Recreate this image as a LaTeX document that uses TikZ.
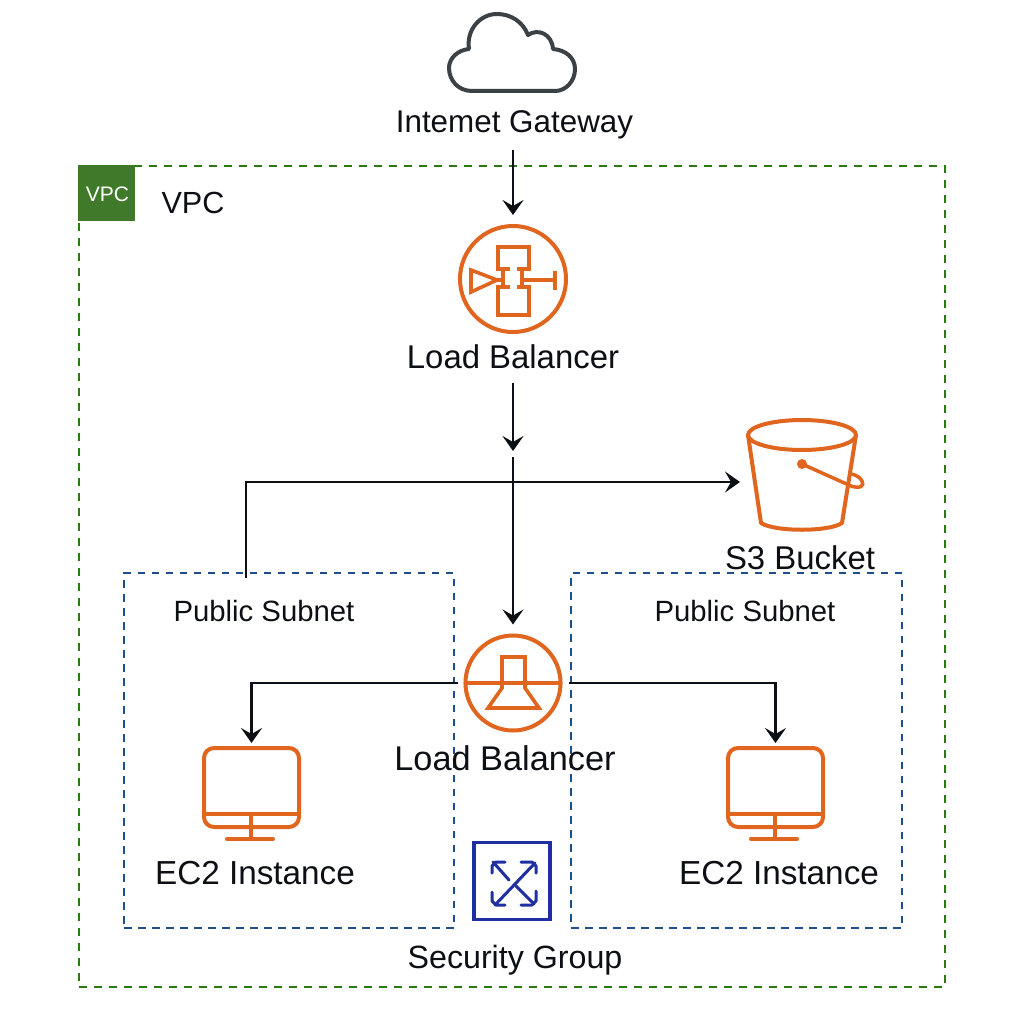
\documentclass[tikz,border=0pt]{standalone}
\usepackage{fontspec}
\setmainfont{Liberation Sans}
\usetikzlibrary{arrows.meta}
\definecolor{awsorange}{HTML}{E0651E}
\definecolor{vpcgreen}{HTML}{2A7A12}
\definecolor{badgegreen}{HTML}{3F7A2A}
\definecolor{subnetblue}{HTML}{1F4E8C}
\definecolor{sgblue}{HTML}{1F2EA0}
\definecolor{cloudgrey}{HTML}{3C4146}
\definecolor{inkblack}{HTML}{0C0F13}
\newcommand{\fsz}[1]{\fontsize{#1pt}{#1pt}\selectfont}
\tikzset{
  x=1pt,y=-1pt,
  lbl/.style={anchor=base,inner sep=0pt,outer sep=0pt,text=inkblack,text height=24pt,text depth=7pt},
  conn/.style={draw=inkblack,line width=2.3pt,-{Stealth[length=15pt,width=21pt,inset=6pt]}},
  icon/.style={draw=awsorange,line width=4pt,line join=round,line cap=round},
  iconsharp/.style={draw=awsorange,line width=3.6pt,line join=miter,line cap=butt},
  iconcircle/.style={circle,draw=awsorange,line width=4pt,inner sep=0pt,outer sep=0pt},
  ec2box/.style={draw=awsorange,line width=4pt,rounded corners=10pt,inner sep=0pt,outer sep=0pt,minimum width=95pt,minimum height=79pt},
  subnetbox/.style={draw=subnetblue,line width=1.2pt,dash pattern=on 7.5pt off 6.5pt,inner sep=0pt,outer sep=0pt,minimum height=355pt},
  sgline/.style={draw=sgblue,line width=3pt,line cap=round,line join=round},
}
\begin{document}
\begin{tikzpicture}
\useasboundingbox[fill=white] (0,0) rectangle (1024,1024);

% frames
\node[draw=vpcgreen,line width=1.3pt,dash pattern=on 8pt off 7pt,inner sep=0pt,outer sep=0pt,minimum width=866pt,minimum height=821pt] (vpc) at (512,576.5) {};
\node[subnetbox,minimum width=330pt] (subnetL) at (289,750.5) {};
\node[subnetbox,minimum width=331pt] (subnetR) at (736.5,750.5) {};
\node[fill=badgegreen,inner sep=0pt,outer sep=0pt,minimum width=57pt,minimum height=56pt] (badge) at (106.5,193) {};
\node[anchor=base,text=white,inner sep=0pt] (badgetext) at (107.5,202) {\fsz{21}VPC};
\node[lbl] (vpclabel) at (193,214) {\fsz{30.6}VPC};

% cloud
\draw[draw=cloudgrey,line width=4pt,line join=round] (472,91) .. controls (458,91) and (449,80) .. (449,68) .. controls (449,58) and (458,50) .. (469,49) .. controls (466,30) and (480,14) .. (497,14) .. controls (511,14) and (523,22) .. (528,35) .. controls (538,28) and (552,34) .. (553,49) .. controls (566,50) and (575,58) .. (575,69) .. controls (575,81) and (566,91) .. (555,91) -- cycle;
\node[lbl] (igwlabel) at (514.5,133) {\fsz{31.4}Intemet Gateway};

% load balancer 1
\node[iconcircle,minimum size=106pt] (lb1) at (513,279) {};
\draw[iconsharp] (510,269) -- (498,269) -- (498,247) -- (529,247) -- (529,269) -- (517,269);
\draw[iconsharp] (510,287) -- (498,287) -- (498,315) -- (529,315) -- (529,287) -- (517,287);
\draw[iconsharp] (503,269) -- (503,287);
\draw[iconsharp] (522,269) -- (522,287);
\draw[iconsharp] (471,270) -- (471,292) -- (497,280) -- cycle;
\draw[iconsharp] (497,280) -- (503,280);
\draw[iconsharp] (522,280) -- (555,280);
\draw[iconsharp] (555,271) -- (555,290);
\node[lbl] (lb1label) at (513,368) {\fsz{32.9}Load Balancer};

% S3 bucket
\node[inner sep=0pt,outer sep=0pt,minimum width=108pt,minimum height=124pt] (s3) at (802,482) {};
\draw[icon] (802,435) ellipse [x radius=54pt,y radius=15pt];
\draw[icon] (748,435) -- (761,523) .. controls (775,532) and (829,532) .. (842,523) -- (856,435);
\fill[awsorange] (802,464) circle [radius=5pt];
\draw[icon,line width=3.5pt] (802,464) -- (851,486) .. controls (860,489) and (865,486) .. (862,481) .. controls (860,477) and (856,475) .. (851,474);
\node[lbl] (s3label) at (800,569) {\fsz{32.9}S3 Bucket};

% subnets
\node[lbl] (subnetLlabel) at (264,621) {\fsz{29.3}Public Subnet};
\node[lbl] (subnetRlabel) at (745,621) {\fsz{29.3}Public Subnet};

% load balancer 2
\node[iconcircle,minimum size=95pt] (lb2) at (513,683) {};
\draw[icon] (lb2.west) -- (lb2.east);
\draw[iconsharp] (502,683) -- (502,657) -- (525,657) -- (525,683);
\draw[iconsharp] (502,683) -- (502,688) -- (488,708) -- (539,708) -- (525,688) -- (525,683);
\node[lbl] (lb2label) at (505,770) {\fsz{34.3}Load Balancer};

% EC2
\node[ec2box] (ec2L) at (251.5,787.5) {};
\draw[icon] (206,814) -- (297,814);
\draw[icon] (251,814) -- (251,839);
\draw[icon] (227,839) -- (273,839);
\node[lbl] (ec2Llabel) at (255,884) {\fsz{33.3}EC2 Instance};
\node[ec2box] (ec2R) at (775.5,787.5) {};
\draw[icon] (730,814) -- (821,814);
\draw[icon] (775,814) -- (775,839);
\draw[icon] (751,839) -- (797,839);
\node[lbl] (ec2Rlabel) at (779,884) {\fsz{33.3}EC2 Instance};

% security group
\node[draw=sgblue,line width=3.5pt,inner sep=0pt,outer sep=0pt,minimum width=76pt,minimum height=77pt] (sg) at (512,881) {};
\draw[sgline] (495,905) -- (535,863);
\draw[sgline] (493,862) -- (509,880);
\draw[sgline] (516,886) -- (534,904);
\draw[sgline] (492,873) -- (492,866) -- (496,862) -- (505,862);
\draw[sgline] (521,862) -- (532,862) -- (536,866) -- (536,873);
\draw[sgline] (492,892) -- (492,901) -- (496,905) -- (505,905);
\draw[sgline] (536,891) -- (536,901) -- (532,905) -- (521,905);
\node[lbl] (sglabel) at (515,968) {\fsz{32.2}Security Group};

% connectors
\coordinate (j1) at (513,451);
\coordinate (j2) at (513,457);
\coordinate (s3start) at (246,578);
\draw[conn,shorten <=10pt,shorten >=11pt] (igwlabel.south -| lb1.north) -- (lb1.north);
\draw[conn,shorten <=8pt] (lb1label.south) -- (j1);
\draw[conn,shorten >=11pt] (j2) -- (lb2.north);
\draw[conn,shorten >=8pt] (s3start) |- (s3.west);
\draw[conn,shorten <=8pt,shorten >=5pt] (lb2.west) -| (ec2L.north);
\draw[conn,shorten <=8pt,shorten >=5pt] (lb2.east) -| (ec2R.north);
\end{tikzpicture}
\end{document}
